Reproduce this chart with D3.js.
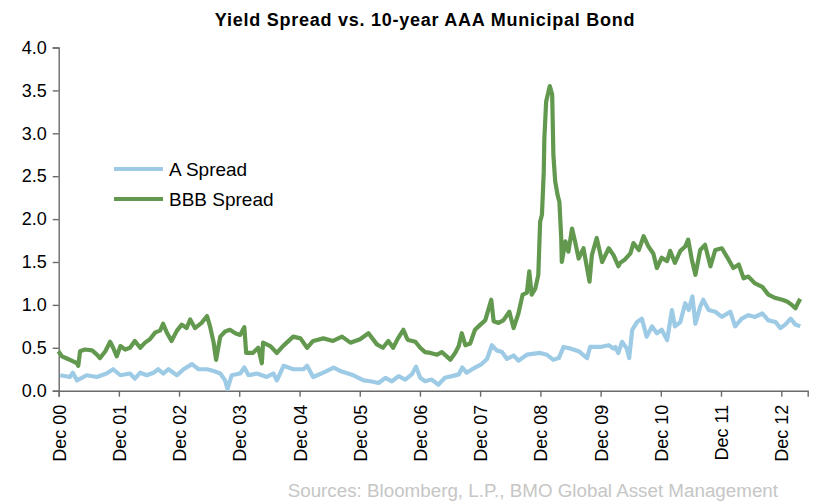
<!DOCTYPE html>
<html>
<head>
<meta charset="utf-8">
<script src="https://cdn.jsdelivr.net/npm/d3@7"></script>
<style>
  body { margin: 0; background: #fff; }
  svg { display: block; font-family: "Liberation Sans", Arial, sans-serif; }
</style>
</head>
<body>
<svg id="chart" width="825" height="502"></svg>
<script>
// decimal years
const bbbYears = [2000.91, 2000.97, 2001.05, 2001.13, 2001.22, 2001.24, 2001.27, 2001.35, 2001.47, 2001.55,
  2001.60, 2001.69, 2001.77, 2001.82, 2001.88, 2001.94, 2002.02, 2002.10, 2002.18, 2002.27,
  2002.35, 2002.43, 2002.52, 2002.60, 2002.65, 2002.71, 2002.79, 2002.88, 2002.96, 2003.04,
  2003.10, 2003.18, 2003.29, 2003.38, 2003.43, 2003.49, 2003.53, 2003.60, 2003.68, 2003.76,
  2003.85, 2003.93, 2004.00, 2004.03, 2004.14, 2004.23, 2004.29, 2004.31, 2004.43, 2004.54,
  2004.64, 2004.81, 2004.93, 2005.04, 2005.14, 2005.31, 2005.47, 2005.62, 2005.76, 2005.92,
  2006.06, 2006.20, 2006.30, 2006.39, 2006.47, 2006.55, 2006.64, 2006.70, 2006.72, 2006.84,
  2006.92, 2007.00, 2007.09, 2007.20, 2007.28, 2007.36, 2007.42, 2007.50, 2007.56, 2007.61,
  2007.67, 2007.75, 2007.83, 2007.92, 2008.00, 2008.05, 2008.10, 2008.14, 2008.22, 2008.30,
  2008.40, 2008.47, 2008.55, 2008.62, 2008.69, 2008.73, 2008.77, 2008.83, 2008.88, 2008.91,
  2008.94, 2008.97, 2008.98, 2009.01, 2009.07, 2009.11, 2009.13, 2009.16, 2009.20, 2009.23,
  2009.26, 2009.27, 2009.33, 2009.38, 2009.44, 2009.49, 2009.55, 2009.63, 2009.73, 2009.77,
  2009.85, 2009.94, 2010.05, 2010.13, 2010.21, 2010.24, 2010.32, 2010.41, 2010.46, 2010.55,
  2010.63, 2010.71, 2010.79, 2010.85, 2010.93, 2011.02, 2011.07, 2011.15, 2011.24, 2011.32,
  2011.37, 2011.43, 2011.49, 2011.57, 2011.65, 2011.74, 2011.82, 2011.93, 2012.04, 2012.12,
  2012.21, 2012.29, 2012.37, 2012.48, 2012.60, 2012.70, 2012.82, 2012.93, 2013.01, 2013.09,
  2013.15, 2013.19, 2013.23];
const bbbValues = [0.46, 0.40, 0.375, 0.35, 0.32, 0.29, 0.46, 0.48, 0.47, 0.42,
  0.38, 0.46, 0.57, 0.50, 0.40, 0.52, 0.48, 0.50, 0.58, 0.50,
  0.56, 0.60, 0.68, 0.70, 0.78, 0.68, 0.58, 0.70, 0.77, 0.73,
  0.83, 0.73, 0.79, 0.87, 0.75, 0.56, 0.36, 0.63, 0.69, 0.71,
  0.67, 0.65, 0.74, 0.44, 0.44, 0.50, 0.32, 0.56, 0.52, 0.44,
  0.52, 0.63, 0.61, 0.50, 0.58, 0.61, 0.58, 0.63, 0.56, 0.60,
  0.67, 0.54, 0.50, 0.58, 0.50, 0.61, 0.71, 0.61, 0.59, 0.57,
  0.50, 0.45, 0.44, 0.42, 0.45, 0.40, 0.36, 0.44, 0.52, 0.67,
  0.53, 0.55, 0.71, 0.77, 0.82, 0.94, 1.06, 0.81, 0.79, 0.82,
  0.92, 0.73, 0.90, 1.12, 1.14, 1.39, 1.12, 1.19, 1.35, 1.97,
  2.05, 2.55, 2.94, 3.37, 3.55, 3.45, 2.75, 2.44, 2.28, 2.20,
  1.78, 1.50, 1.74, 1.62, 1.89, 1.74, 1.54, 1.66, 1.27, 1.58,
  1.78, 1.50, 1.66, 1.58, 1.45, 1.49, 1.53, 1.60, 1.72, 1.64,
  1.80, 1.68, 1.60, 1.43, 1.55, 1.51, 1.63, 1.49, 1.63, 1.68,
  1.76, 1.53, 1.35, 1.64, 1.70, 1.45, 1.64, 1.66, 1.53, 1.43,
  1.47, 1.31, 1.33, 1.25, 1.21, 1.12, 1.08, 1.06, 1.04, 1.00,
  0.96, 1.02, 1.07];

const aYears = [2000.94, 2001.10, 2001.15, 2001.22, 2001.38, 2001.55, 2001.71, 2001.82, 2001.94, 2002.10,
  2002.18, 2002.27, 2002.38, 2002.49, 2002.57, 2002.65, 2002.74, 2002.88, 2002.99, 2003.13,
  2003.24, 2003.38, 2003.49, 2003.60, 2003.68, 2003.72, 2003.79, 2003.93, 2004.00, 2004.07,
  2004.21, 2004.37, 2004.48, 2004.54, 2004.65, 2004.81, 2004.98, 2005.04, 2005.14, 2005.31,
  2005.48, 2005.59, 2005.81, 2005.98, 2006.09, 2006.23, 2006.34, 2006.45, 2006.56, 2006.67,
  2006.78, 2006.85, 2006.92, 2007.00, 2007.11, 2007.22, 2007.33, 2007.45, 2007.56, 2007.62,
  2007.69, 2007.83, 2007.94, 2008.03, 2008.11, 2008.19, 2008.28, 2008.36, 2008.47, 2008.55,
  2008.69, 2008.91, 2009.02, 2009.13, 2009.22, 2009.30, 2009.42, 2009.55, 2009.69, 2009.74,
  2009.91, 2010.05, 2010.13, 2010.16, 2010.21, 2010.27, 2010.35, 2010.39, 2010.44, 2010.52,
  2010.60, 2010.68, 2010.77, 2010.85, 2010.93, 2011.02, 2011.10, 2011.15, 2011.24, 2011.32,
  2011.38, 2011.44, 2011.49, 2011.57, 2011.62, 2011.71, 2011.82, 2011.93, 2012.07, 2012.15,
  2012.26, 2012.37, 2012.48, 2012.60, 2012.70, 2012.82, 2012.90, 2012.98, 2013.07, 2013.15,
  2013.23];
const aValues = [0.18, 0.16, 0.21, 0.12, 0.18, 0.16, 0.20, 0.25, 0.18, 0.20,
  0.14, 0.21, 0.18, 0.21, 0.25, 0.20, 0.25, 0.18, 0.25, 0.31,
  0.25, 0.25, 0.23, 0.20, 0.12, 0.02, 0.18, 0.20, 0.27, 0.18,
  0.20, 0.16, 0.20, 0.12, 0.29, 0.25, 0.25, 0.29, 0.16, 0.21,
  0.27, 0.23, 0.18, 0.12, 0.11, 0.09, 0.15, 0.11, 0.17, 0.13,
  0.19, 0.28, 0.15, 0.11, 0.13, 0.07, 0.15, 0.17, 0.19, 0.27,
  0.21, 0.27, 0.31, 0.37, 0.53, 0.47, 0.45, 0.37, 0.41, 0.35,
  0.42, 0.44, 0.42, 0.36, 0.38, 0.51, 0.49, 0.46, 0.38, 0.51,
  0.51, 0.53, 0.49, 0.51, 0.44, 0.57, 0.49, 0.38, 0.71, 0.80,
  0.84, 0.63, 0.75, 0.67, 0.71, 0.59, 0.94, 0.75, 0.80, 1.02,
  0.94, 1.10, 0.78, 0.98, 1.06, 0.94, 0.92, 0.86, 0.92, 0.75,
  0.84, 0.88, 0.86, 0.90, 0.82, 0.80, 0.73, 0.77, 0.84, 0.77,
  0.75];

const yTicks = [0, 0.5, 1, 1.5, 2, 2.5, 3, 3.5, 4];
const tickYears = d3.range(2000, 2013); // Dec 00 .. Dec 12
const seriesNames = ["A Spread", "BBB Spread"];
const seriesColors = ["#9dcbe6", "#62994f"];

function yearToDate(y) {
  const yr = Math.floor(y);
  const start = new Date(yr, 0, 1), end = new Date(yr + 1, 0, 1);
  return new Date(+start + (y - yr) * (end - start));
}

const aData = aYears.map((y, i) => ({ date: yearToDate(y), value: aValues[i] }));
const bbbData = bbbYears.map((y, i) => ({ date: yearToDate(y), value: bbbValues[i] }));

const svg = d3.select("#chart");

const x = d3.scaleTime()
  .domain([new Date(2000, 11, 1), new Date(2013, 4, 10)])
  .range([58.7, 807.7]);
const y = d3.scaleLinear().domain([0, 4]).range([390.7, 47.5]);

// title
svg.append("text")
  .attr("x", 425)
  .attr("y", 26)
  .attr("text-anchor", "middle")
  .attr("font-size", "18px")
  .attr("font-weight", "bold")
  .attr("letter-spacing", "0.75px")
  .attr("fill", "#000")
  .text("Yield Spread vs. 10-year AAA Municipal Bond");

// y axis
const yAxis = d3.axisLeft(y)
  .tickValues(yTicks)
  .tickSize(6)
  .tickPadding(6)
  .tickFormat(d3.format(".1f"));
const gy = svg.append("g")
  .attr("transform", `translate(${x.range()[0]},0)`)
  .call(yAxis);

// x axis
const xAxis = d3.axisBottom(x)
  .tickValues(tickYears.map(yr => new Date(yr, 11, 1)))
  .tickSize(6)
  .tickFormat(d => "Dec " + d3.timeFormat("%y")(d));
const gx = svg.append("g")
  .attr("transform", `translate(0,${y(0)})`)
  .call(xAxis);
gx.selectAll(".tick text")
  .attr("transform", "rotate(-90)")
  .attr("text-anchor", "end")
  .attr("x", -14)
  .attr("y", 0)
  .attr("dy", "0.36em");

[gx, gy].forEach(g => {
  g.select(".domain").attr("stroke", "#6b6b6b").attr("stroke-width", 1.4);
  g.selectAll(".tick line").attr("stroke", "#6b6b6b").attr("stroke-width", 1.4);
  g.selectAll(".tick text")
    .attr("fill", "#000")
    .attr("font-size", "18px")
    .attr("font-family", "Liberation Sans, Arial, sans-serif");
});

// lines
const line = d3.line()
  .x(d => x(d.date))
  .y(d => y(d.value));

[aData, bbbData].forEach((data, i) => {
  svg.append("path")
    .datum(data)
    .attr("fill", "none")
    .attr("stroke", seriesColors[i])
    .attr("stroke-width", 4.2)
    .attr("stroke-linejoin", "round")
    .attr("d", line);
});

// legend
const legend = svg.append("g").attr("transform", "translate(114,169)");
seriesNames.forEach((name, i) => {
  const row = legend.append("g").attr("transform", `translate(0,${i * 30})`);
  row.append("line")
    .attr("x1", 0).attr("x2", 49)
    .attr("stroke", seriesColors[i])
    .attr("stroke-width", 3.8);
  row.append("text")
    .attr("x", 55)
    .attr("dy", "0.36em")
    .attr("font-size", "19px")
    .attr("fill", "#000")
    .text(name);
});

// source note
svg.append("text")
  .attr("x", 778)
  .attr("y", 497)
  .attr("text-anchor", "end")
  .attr("font-size", "18.8px")
  .attr("fill", "#c6c6c6")
  .text("Sources: Bloomberg, L.P., BMO Global Asset Management");
</script>
</body>
</html>
